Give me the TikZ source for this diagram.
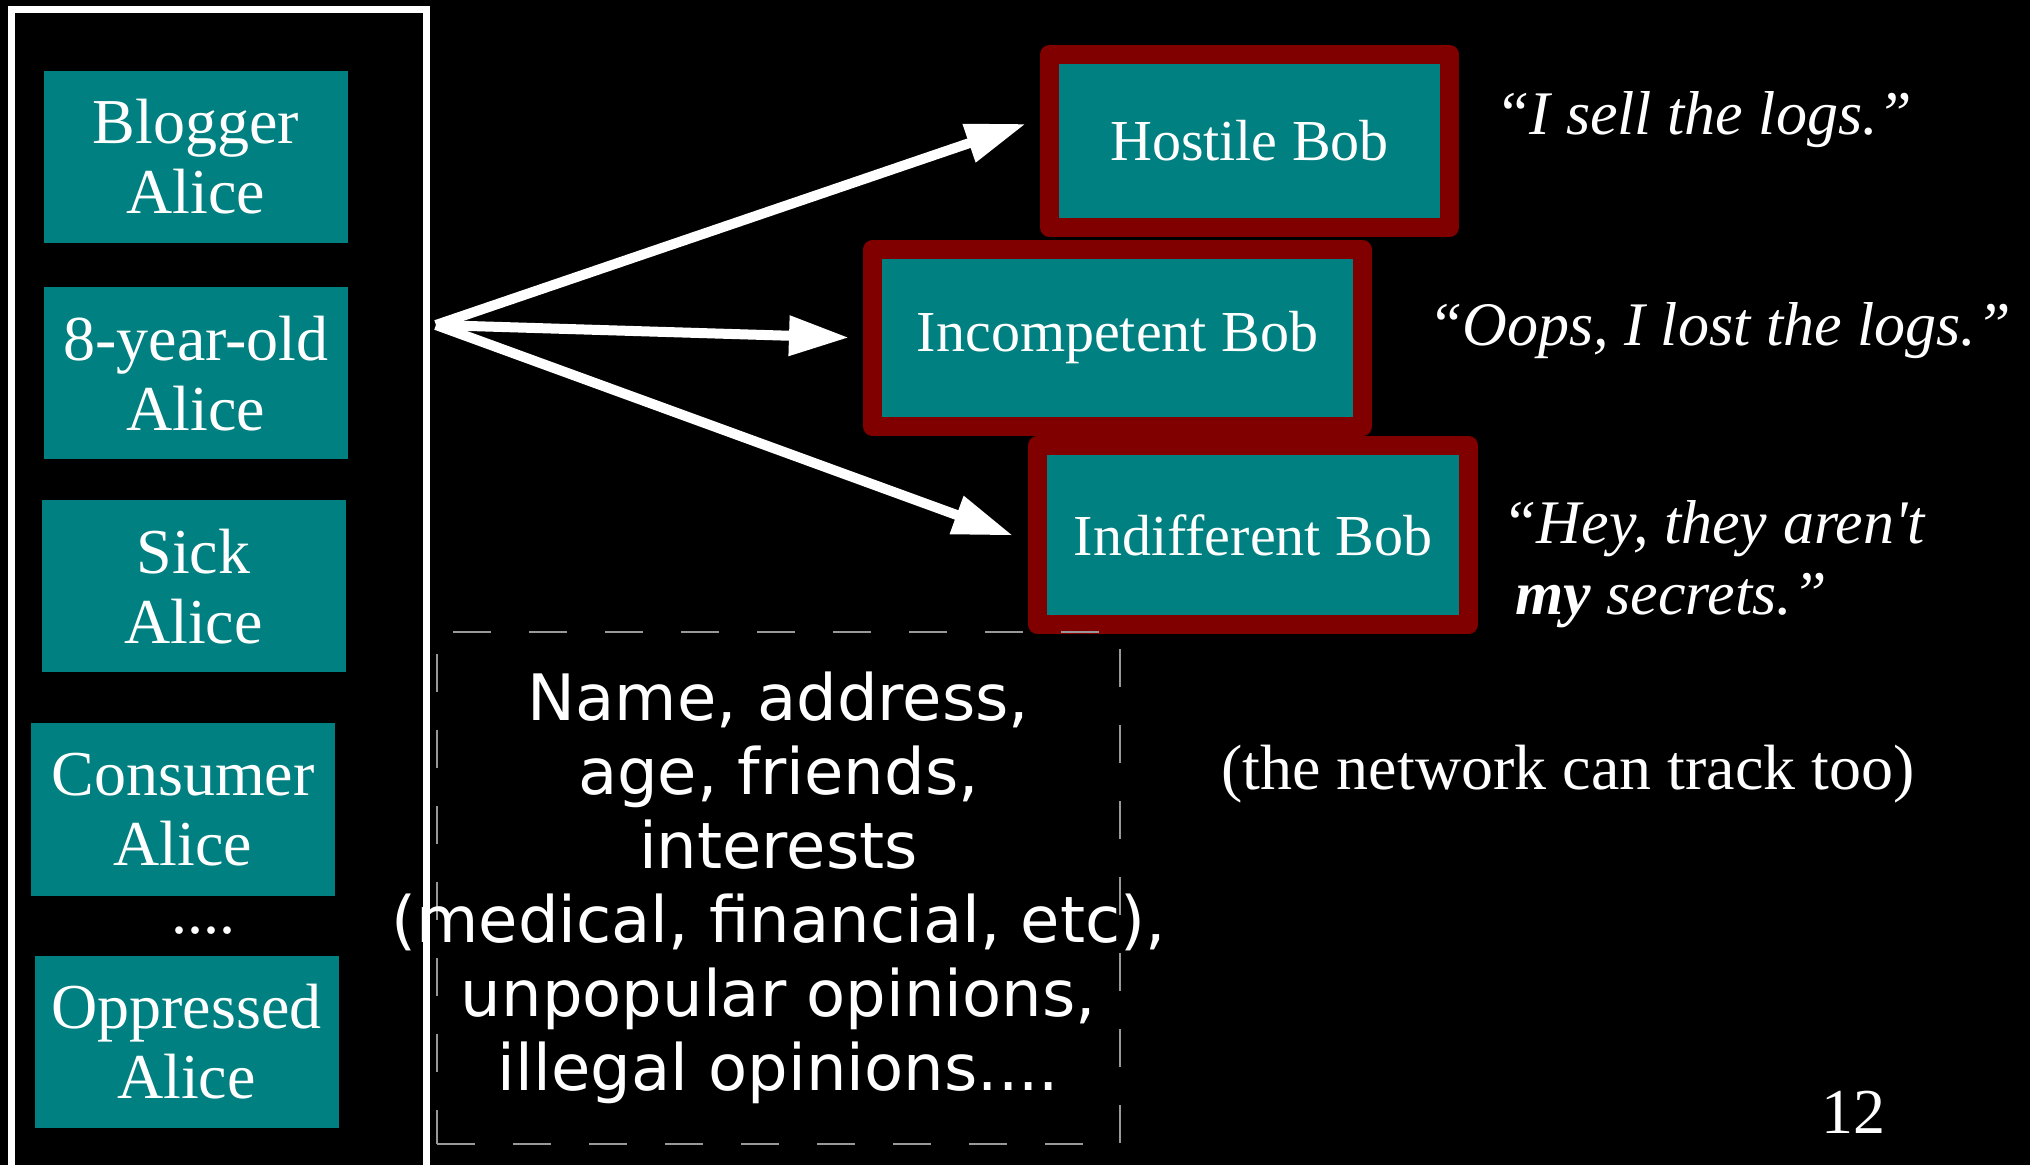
\documentclass[tikz,border=0pt]{standalone}
\usepackage{fontspec}
\setmainfont{Liberation Serif}
\newfontfamily\datafont{DejaVu Sans}
\usetikzlibrary{arrows.meta}

\definecolor{slideteal}{HTML}{008080}
\definecolor{bobred}{HTML}{800000}

\tikzset{
  alicebox/.style={fill=slideteal, text=white, minimum width=152pt, minimum height=86pt,
    inner sep=0pt, align=center, font=\fontsize{32}{35}\selectfont},
  bobbox/.style={fill=slideteal, draw=bobred, line width=9.5pt, line join=round,
    text=white, inner sep=0pt, font=\fontsize{29}{33}\selectfont},
  saying/.style={text=white, inner sep=0pt, font=\fontsize{31}{35.5}\selectfont\itshape},
  plaintext/.style={text=white, inner sep=0pt, font=\fontsize{32}{35}\selectfont},
  arr/.style={white, line width=5pt, -{Triangle[length=30pt,width=19pt]}},
}

\begin{document}
\begin{tikzpicture}[x=0.5pt, y=-0.5pt]
  \useasboundingbox (0,0) rectangle (2030,1165);
  \fill[black] (0,0) rectangle (2030,1165);
  \clip (0,0) rectangle (2030,1165);

  % the many Alices
  \draw[white, line width=3.5pt] (11,9.5) rectangle (426.5,1200);
  \foreach \x/\y/\txt [count=\i] in {196/157/{Blogger\\Alice}, 196/373.5/{8-year-old\\Alice},
      193.5/586.5/{Sick\\Alice}, 183/809.5/{Consumer\\Alice}, 186.5/1041.5/{Oppressed\\Alice}}
    {\node[alicebox] (alice\i) at (\x,\y) {\txt};}
  \node[plaintext, anchor=base] (dots) at (203,933) {....};

  % the Bobs
  \node[bobbox, minimum width=200pt, minimum height=86.5pt] (hostile) at (1249.5,141) {Hostile Bob};
  \node[bobbox, minimum width=245pt, minimum height=88.5pt] (incompetent) at (1117.5,338) {Incompetent Bob};
  \node[bobbox, minimum width=215.5pt, minimum height=89.5pt] (indifferent) at (1253,535) {Indifferent Bob};

  \coordinate (src) at (436,325);
  \draw[arr, shorten >=7.5pt] (src) -- ([yshift=11pt]hostile.west);
  \draw[arr, shorten >=7pt] (src) -- (incompetent.west);
  \draw[arr, shorten >=8pt] (src) -- ([yshift=-3pt]indifferent.west);

  % what they say
  \node[saying, anchor=base west] (q1) at (1495,135) {“I sell the logs.”};
  \node[saying, anchor=base west] (q2) at (1428,346) {“Oops, I lost the logs.”};
  \node[saying, anchor=base west, align=left] (q3) at (1502,615)
    {“Hey, they aren\textquotesingle t\\\hspace*{6.5pt}\textbf{my} secrets.”};

  % the data
  \node[draw=gray!80, dash pattern=on 19pt off 19pt, line width=0.8pt,
    minimum width=341.5pt, minimum height=256pt, inner sep=0pt] (data) at (778.5,888) {};
  \node[text=white, inner sep=0pt, align=center, font=\datafont\fontsize{32}{37}\selectfont]
    (datatext) at (data.center) {Name, address,\\age, friends,\\interests\\(medical, financial, etc),\\unpopular opinions,\\illegal opinions....};

  \node[plaintext, anchor=base west] (tracknote) at (1221,790) {(the network can track too)};
  \node[plaintext, anchor=base] (pagenum) at (1853,1133) {12};
\end{tikzpicture}
\end{document}
